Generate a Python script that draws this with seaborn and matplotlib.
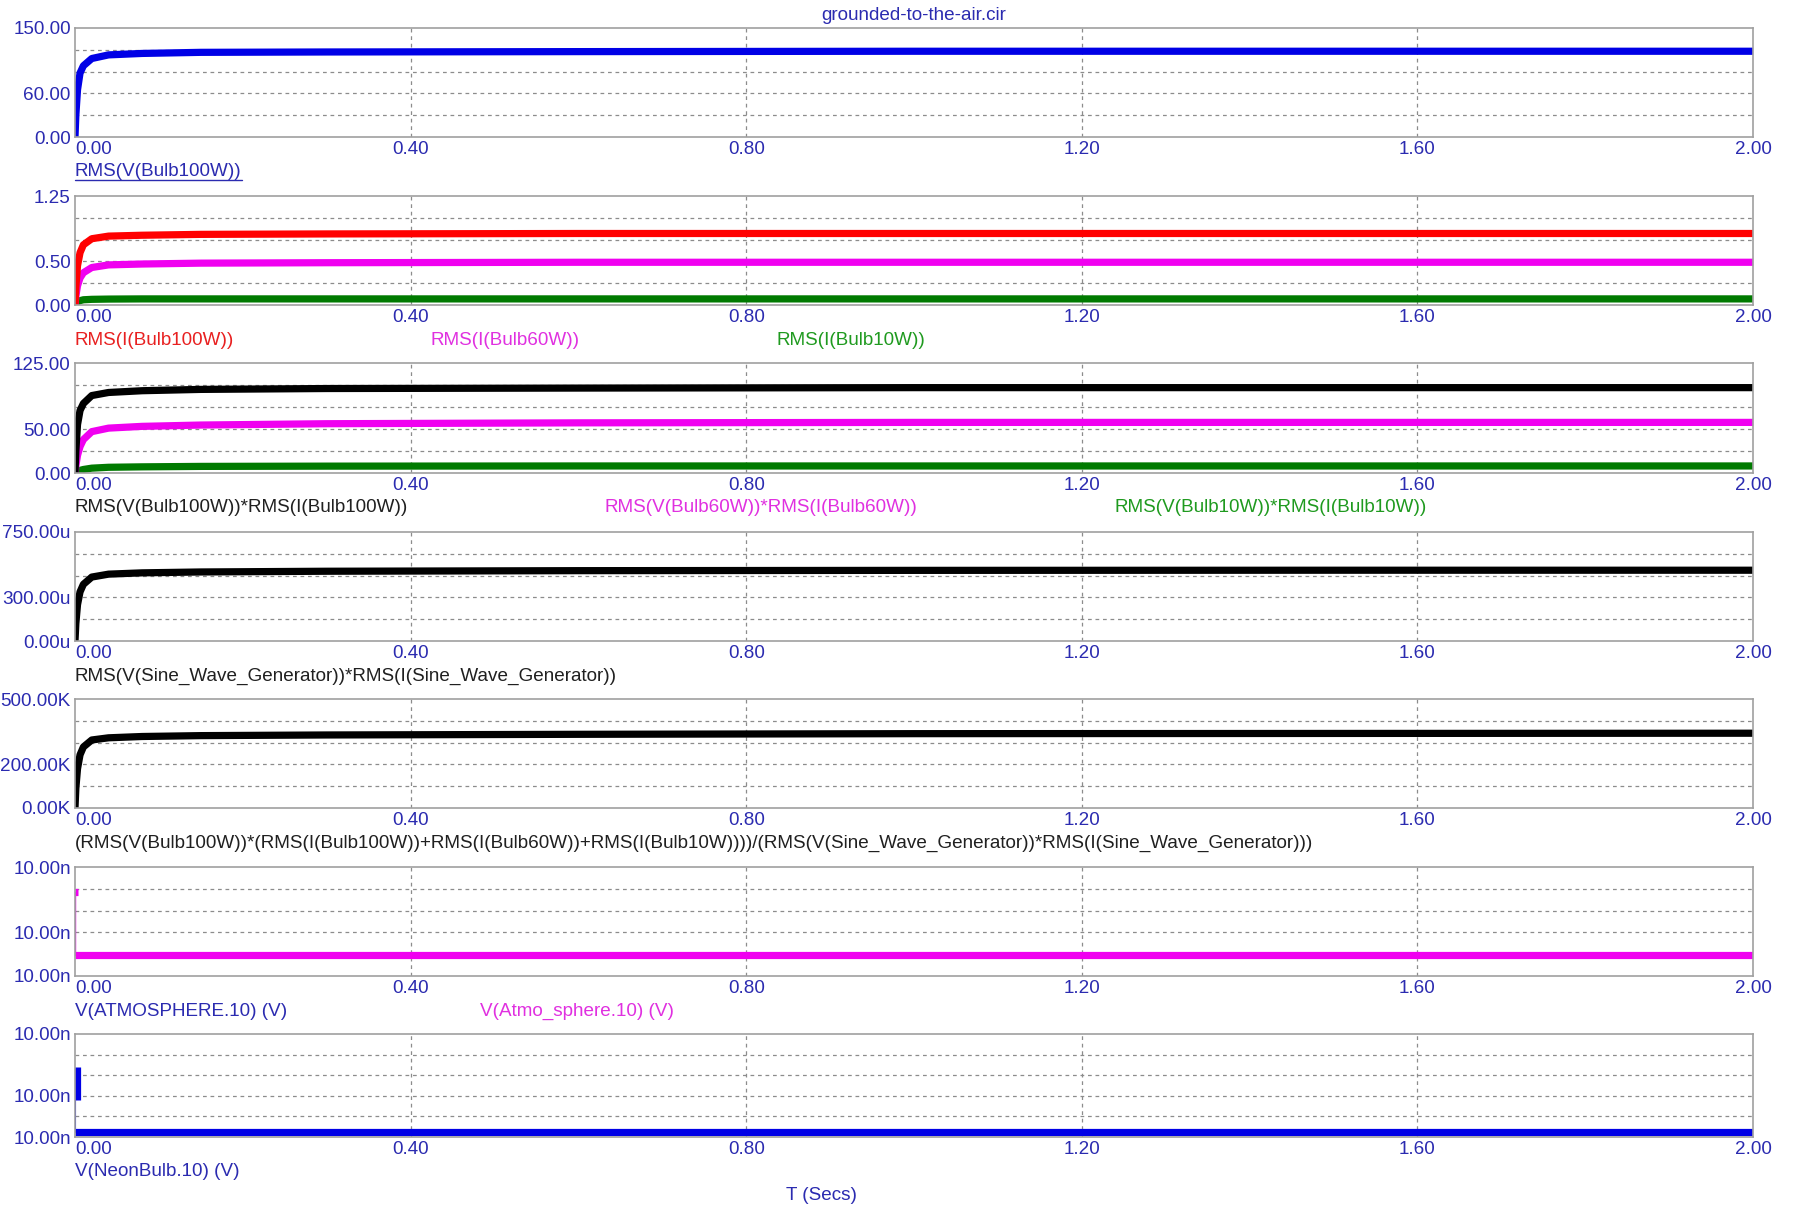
import pandas as pd
import seaborn as sns
import matplotlib.pyplot as plt
from matplotlib.lines import Line2D

sns.set_theme(style="white")
plt.rcParams['font.family'] = ['Liberation Sans', 'DejaVu Sans']

# ---- data ----
t = [0.0, 0.001, 0.003, 0.006, 0.01, 0.02, 0.04, 0.08, 0.15, 0.3, 0.6, 1.0, 1.5, 2.0]

v_bulb100 = [0, 30, 65, 88, 98, 108, 113, 115, 116.5, 117, 117.5, 118, 118, 118]
i_bulb100 = [0, 0.2, 0.45, 0.6, 0.69, 0.76, 0.79, 0.80, 0.81, 0.815, 0.82, 0.82, 0.82, 0.82]
i_bulb60 = [0, 0.1, 0.22, 0.31, 0.37, 0.43, 0.46, 0.47, 0.48, 0.485, 0.49, 0.49, 0.49, 0.49]
i_bulb10 = [0, 0.015, 0.035, 0.05, 0.06, 0.065, 0.068, 0.07, 0.07, 0.07, 0.07, 0.07, 0.07, 0.07]
p_bulb100 = [0, 25, 55, 71, 79, 88, 91.5, 93.5, 95, 96, 96.5, 97, 97, 97]
p_bulb60 = [0, 8, 20, 30, 38, 47, 51, 53, 54.5, 56, 57, 57.5, 57.5, 57.5]
p_bulb10 = [0, 1, 2, 3, 4, 5.5, 6.5, 7, 7.5, 7.8, 8, 8, 8, 8]
p_source_u = [0, 120, 250, 338, 390, 440, 460, 469, 475, 480, 484, 486, 487, 487]
ratio_k = [0, 90, 180, 244, 280, 312, 322, 328, 332, 335, 338, 341, 342, 343]

# the two 10.00n node voltages (relative position inside the tiny range)
atm_t = [0.0, 2.0]
atm_v = [0.19, 0.19]
atm_spike_t = [0.0, 0.003]
atm_spike_v = [0.77, 0.77]
neon_t = [0.0, 2.0]
neon_v = [0.045, 0.045]
neon_spike_t = [0.002, 0.002]
neon_spike_v = [0.36, 0.68]

x_ticks = [0.0, 0.4, 0.8, 1.2, 1.6, 2.0]
x_labels = ["0.00", "0.40", "0.80", "1.20", "1.60", "2.00"]

BLUE = "#0000e6"
RED = "#ff0000"
MAG = "#f000f0"
GREEN = "#007a00"
BLACK = "#000000"
TXT = "#2b2bb0"
FS = 13.6

W, H = 1793, 1207
X0, X1 = 75, 1753
fig = plt.figure(figsize=(W / 100, H / 100), dpi=100)
fig.patch.set_facecolor("white")

panels = [
    dict(top=28, bot=137, ymax=150, ylab=["0.00", "60.00", "150.00"],
         series=[(t, v_bulb100, BLUE)],
         labels=[("RMS(V(Bulb100W))", 75, TXT)]),
    dict(top=196, bot=305, ymax=1.25, ylab=["0.00", "0.50", "1.25"],
         series=[(t, i_bulb10, GREEN), (t, i_bulb60, MAG), (t, i_bulb100, RED)],
         labels=[("RMS(I(Bulb100W))", 75, "#e82020"), ("RMS(I(Bulb60W))", 430, "#e030e0"),
                 ("RMS(I(Bulb10W))", 776, "#1f9a1f")]),
    dict(top=363, bot=473, ymax=125, ylab=["0.00", "50.00", "125.00"],
         series=[(t, p_bulb10, GREEN), (t, p_bulb60, MAG), (t, p_bulb100, BLACK)],
         labels=[("RMS(V(Bulb100W))*RMS(I(Bulb100W))", 75, "#202020"),
                 ("RMS(V(Bulb60W))*RMS(I(Bulb60W))", 605, "#e030e0"),
                 ("RMS(V(Bulb10W))*RMS(I(Bulb10W))", 1115, "#1f9a1f")]),
    dict(top=532, bot=641, ymax=750, ylab=["0.00u", "300.00u", "750.00u"],
         series=[(t, p_source_u, BLACK)],
         labels=[("RMS(V(Sine_Wave_Generator))*RMS(I(Sine_Wave_Generator))", 75, "#202020")]),
    dict(top=699, bot=808, ymax=500, ylab=["0.00K", "200.00K", "500.00K"],
         series=[(t, ratio_k, BLACK)],
         labels=[("(RMS(V(Bulb100W))*(RMS(I(Bulb100W))+RMS(I(Bulb60W))+RMS(I(Bulb10W))))"
                  "/(RMS(V(Sine_Wave_Generator))*RMS(I(Sine_Wave_Generator)))", 75, "#202020")]),
    dict(top=867, bot=976, ymax=1.0, ylab=["10.00n", "10.00n", "10.00n"],
         series=[(atm_t, atm_v, MAG), (atm_spike_t, atm_spike_v, MAG)],
         labels=[("V(ATMOSPHERE.10) (V)", 75, TXT), ("V(Atmo_sphere.10) (V)", 480, "#e030e0")]),
    dict(top=1034, bot=1137, ymax=1.0, ylab=["10.00n", "10.00n", "10.00n"],
         series=[(neon_t, neon_v, BLUE), (neon_spike_t, neon_spike_v, BLUE)],
         labels=[("V(NeonBulb.10) (V)", 75, TXT)]),
]

underline_txt = None
for i, p in enumerate(panels):
    ax = fig.add_axes([X0 / W, 1 - p["bot"] / H, (X1 - X0) / W, (p["bot"] - p["top"]) / H])
    ax.set_facecolor("white")
    ymax = p["ymax"]
    # dashed grid: 4 horizontal divisions lines, vertical at the x ticks
    for k in range(1, 5):
        ax.axhline(ymax * k / 5, color="#8c8c8c", lw=0.9, ls=(0, (3, 3)), zorder=1)
    for xv in x_ticks[1:-1]:
        ax.axvline(xv, color="#8c8c8c", lw=0.9, ls=(0, (3, 3)), zorder=1)
    for xs, ys, col in p["series"]:
        df = pd.DataFrame({"t": xs, "v": ys})
        sns.lineplot(data=df, x="t", y="v", ax=ax, color=col, linewidth=5.2,
                     estimator=None, sort=False, solid_capstyle="butt", zorder=3)
    if i == 5:
        ax.plot([0.0005, 0.0005], [atm_v[0], atm_spike_v[0]], color=MAG, lw=1, zorder=3)
    if i == 6:
        ax.plot([0.0005, 0.0005], [neon_v[0], neon_spike_v[0]], color=BLUE, lw=1.5, zorder=3)
    ax.set_xlim(0, 2.0)
    ax.set_ylim(0, ymax)
    ax.set_xlabel("")
    ax.set_ylabel("")
    ax.set_xticks(x_ticks)
    ax.set_xticklabels(x_labels)
    ax.set_yticks([0, 0.4 * ymax, ymax])
    ax.set_yticklabels(p["ylab"])
    ax.tick_params(axis="both", which="both", length=0, labelsize=FS, labelcolor=TXT)
    ax.tick_params(axis="x", pad=3)
    ax.tick_params(axis="y", pad=3)
    ax.get_xticklabels()[0].set_ha("left")
    ax.grid(False)
    for s in ax.spines.values():
        s.set_color("#a0a0a0")
        s.set_linewidth(1.2)
        s.set_zorder(5)
    for txt, xpix, col in p["labels"]:
        tx = fig.text(xpix / W, 1 - (p["bot"] + 35) / H, txt, color=col, fontsize=FS,
                      ha="left", va="center")
        if i == 0:
            underline_txt = tx

fig.text(914 / W, 1 - 16 / H, "grounded-to-the-air.cir", color=TXT, fontsize=FS,
         ha="center", va="center")
fig.text(821 / W, 1 - 1195 / H, "T (Secs)", color=TXT, fontsize=FS, ha="center", va="center")

fig.canvas.draw()
bb = underline_txt.get_window_extent()
fig.add_artist(Line2D([bb.x0 / W, bb.x1 / W], [(bb.y0 + 1) / H, (bb.y0 + 1) / H],
                      transform=fig.transFigure, color=TXT, lw=1))

fig.savefig("out.png", dpi=100, facecolor="white")
